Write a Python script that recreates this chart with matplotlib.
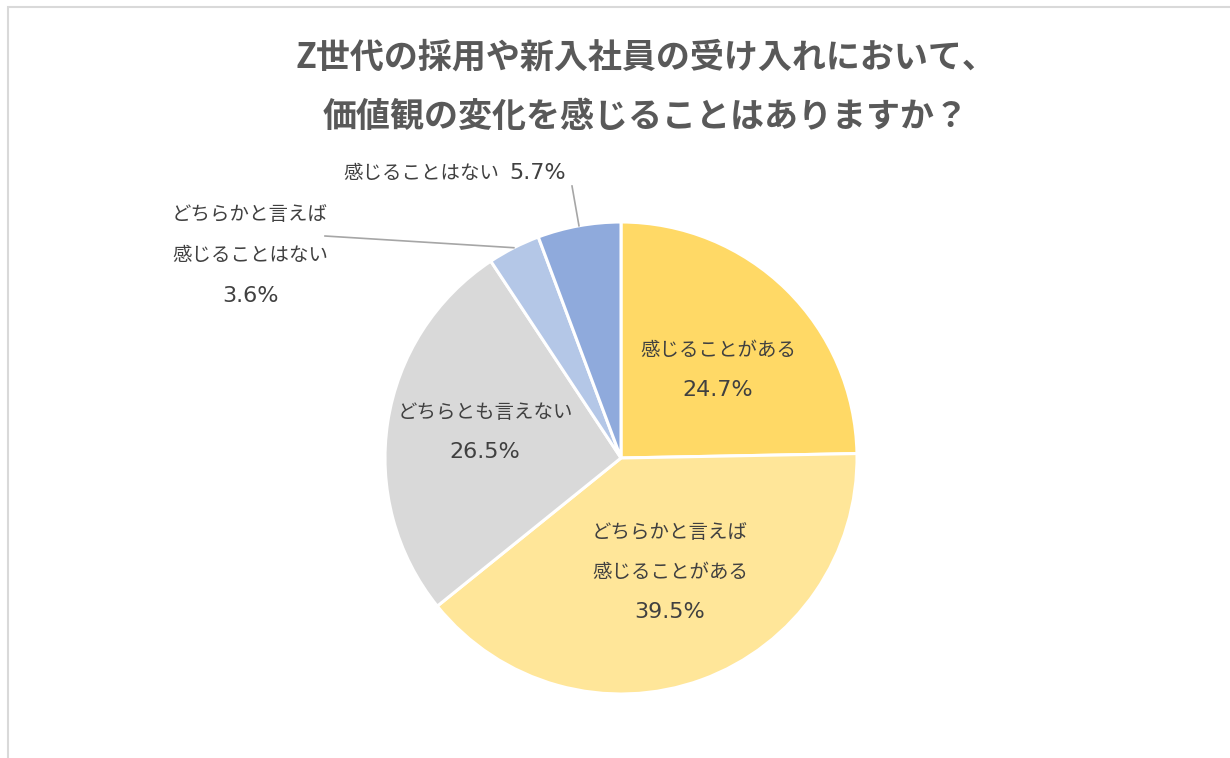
import matplotlib.pyplot as plt
import numpy as np
from matplotlib.patches import Rectangle

plt.rcParams['font.family'] = ['DejaVu Sans', 'Noto Sans CJK JP']

title_lines = ["Z世代の採用や新入社員の受け入れにおいて、", "価値観の変化を感じることはありますか？"]
categories = ["感じることがある", "どちらかと言えば\n感じることがある", "どちらとも言えない",
              "どちらかと言えば\n感じることはない", "感じることはない"]
values = [24.7, 39.5, 26.5, 3.6, 5.7]
colors = ["#FFD966", "#FFE699", "#D9D9D9", "#B4C7E7", "#8FAADC"]

W, H = 1230, 758
fig = plt.figure(figsize=(W / 100, H / 100), dpi=100)
ax = fig.add_axes([0, 0, 1, 1])

# chart frame (runs off the right/bottom of the image)
ax.add_patch(Rectangle((7.5, -20), W + 40, H - 6.5 + 20, fill=False,
                       edgecolor="#D9D9D9", linewidth=1.5))

cx, cy, r = 621, 300, 236
wedges, _ = ax.pie(values, colors=colors, startangle=90, counterclock=False,
                   center=(cx, cy), radius=r, frame=True,
                   wedgeprops=dict(edgecolor="white", linewidth=2.2))
ax.set_xlim(0, W)
ax.set_ylim(0, H)
ax.set_aspect('equal')
ax.axis('off')

txt = "#404040"
fs = 14
fs_pct = 16


def mid_point(w):
    a = np.deg2rad((w.theta1 + w.theta2) / 2)
    return cx + r * np.cos(a), cy + r * np.sin(a)


def label(i, x, ys):
    lines = categories[i].split("\n")
    for line, y in zip(lines, ys):
        ax.text(x, H - y, line, ha='center', va='center', fontsize=fs, color=txt)
    ax.text(x, H - ys[-1], f"{values[i]}%", ha='center', va='center',
            fontsize=fs_pct, color=txt)


label(0, 718, [350, 390])
label(1, 670, [532, 572, 612])
label(2, 485, [412, 452])
label(3, 250, [215, 255, 296])

ex, ey = mid_point(wedges[3])
ax.plot([325, ex], [H - 236, ey], color="#A6A6A6", linewidth=1.2)

# single-line label for the last slice
ax.text(499, H - 173, categories[4], ha='right', va='center', fontsize=fs, color=txt)
ax.text(509, H - 173, f"{values[4]}%", ha='left', va='center', fontsize=fs_pct, color=txt)
ex, ey = mid_point(wedges[4])
ax.plot([572, ex], [H - 186, ey], color="#A6A6A6", linewidth=1.2)

for line, y in zip(title_lines, [57, 117]):
    ax.text(646, H - y, line, ha='center', va='center', fontsize=24.5,
            fontweight='bold', color="#595959", family='Noto Sans CJK JP')

fig.savefig("out.png", dpi=100)
